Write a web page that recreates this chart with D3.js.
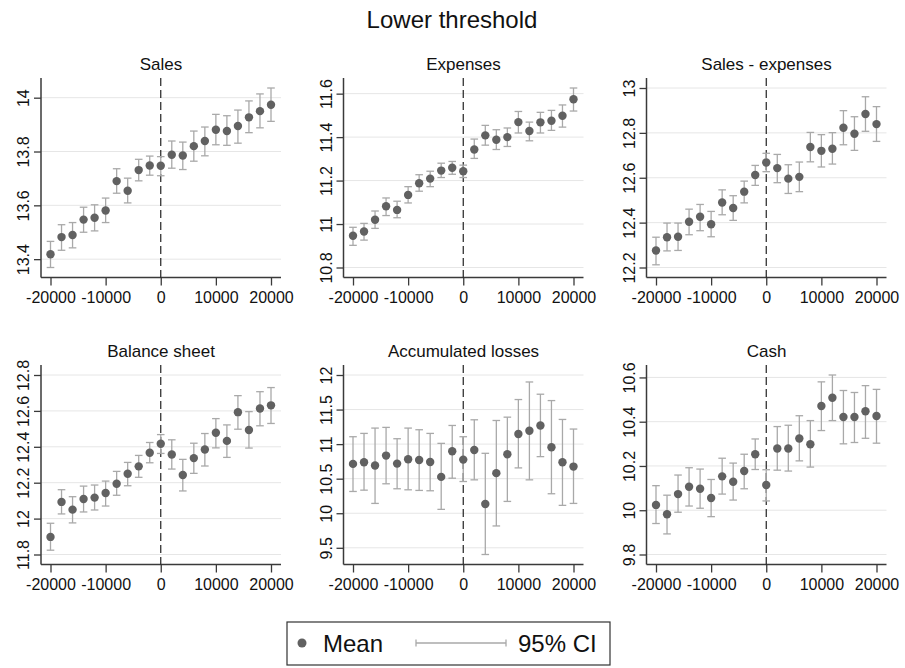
<!DOCTYPE html>
<html>
<head>
<meta charset="utf-8">
<script src="https://cdn.jsdelivr.net/npm/d3@7"></script>
<style>
  body { margin: 0; background: #fff; }
  svg { display: block; font-family: "Liberation Sans", Arial, sans-serif; }
</style>
</head>
<body>
<svg id="chart" width="905" height="668"></svg>
<script>
// bins of the running variable
const bins = [-20000, -18000, -16000, -14000, -12000, -10000, -8000, -6000, -4000, -2000, 0,
              2000, 4000, 6000, 8000, 10000, 12000, 14000, 16000, 18000, 20000];
const xTicks = [-20000, -10000, 0, 10000, 20000];

const panelTitles = ["Sales", "Expenses", "Sales - expenses", "Balance sheet", "Accumulated losses", "Cash"];

// Sales
const salesMean = [13.418, 13.482, 13.490, 13.547, 13.554, 13.581, 13.690, 13.654, 13.731, 13.748, 13.747,
                   13.788, 13.785, 13.820, 13.839, 13.881, 13.876, 13.895, 13.927, 13.950, 13.974];
const salesLo = [13.369, 13.433, 13.442, 13.500, 13.505, 13.536, 13.645, 13.609, 13.691, 13.712, 13.710,
                 13.738, 13.733, 13.764, 13.784, 13.825, 13.823, 13.831, 13.870, 13.888, 13.912];
const salesHi = [13.466, 13.528, 13.536, 13.593, 13.602, 13.627, 13.736, 13.701, 13.771, 13.783, 13.781,
                 13.839, 13.835, 13.876, 13.891, 13.938, 13.933, 13.954, 13.988, 14.014, 14.036];
const salesTicks = [13.4, 13.6, 13.8, 14];

// Expenses
const expMean = [10.946, 10.966, 11.020, 11.082, 11.065, 11.134, 11.188, 11.209, 11.246, 11.259, 11.243,
                 11.343, 11.408, 11.388, 11.400, 11.469, 11.428, 11.468, 11.475, 11.498, 11.574];
const expLo = [10.902, 10.926, 10.980, 11.039, 11.029, 11.097, 11.151, 11.172, 11.214, 11.229, 11.214,
               11.302, 11.363, 11.343, 11.357, 11.419, 11.383, 11.419, 11.431, 11.446, 11.520];
const expHi = [10.985, 11.003, 11.060, 11.120, 11.105, 11.172, 11.227, 11.243, 11.280, 11.288, 11.271,
               11.391, 11.454, 11.434, 11.442, 11.518, 11.469, 11.514, 11.523, 11.548, 11.626];
const expTicks = [10.8, 11, 11.2, 11.4, 11.6];

// Sales - expenses
const diffMean = [12.276, 12.335, 12.337, 12.404, 12.426, 12.393, 12.490, 12.465, 12.538, 12.612, 12.668,
                  12.643, 12.596, 12.604, 12.737, 12.720, 12.729, 12.823, 12.796, 12.884, 12.839];
const diffLo = [12.212, 12.274, 12.276, 12.346, 12.364, 12.337, 12.435, 12.410, 12.488, 12.566, 12.627,
                12.578, 12.530, 12.538, 12.671, 12.648, 12.661, 12.747, 12.722, 12.807, 12.762];
const diffHi = [12.335, 12.398, 12.398, 12.460, 12.481, 12.450, 12.546, 12.520, 12.585, 12.655, 12.709,
                12.704, 12.658, 12.670, 12.802, 12.792, 12.801, 12.899, 12.872, 12.961, 12.917];
const diffTicks = [12.2, 12.4, 12.6, 12.8, 13];

// Balance sheet
const balMean = [11.898, 12.093, 12.050, 12.109, 12.117, 12.143, 12.194, 12.250, 12.291, 12.367, 12.417,
                 12.357, 12.243, 12.337, 12.385, 12.478, 12.433, 12.593, 12.494, 12.613, 12.631];
const balLo = [11.824, 12.026, 11.976, 12.037, 12.048, 12.070, 12.130, 12.183, 12.230, 12.311, 12.363,
               12.276, 12.154, 12.252, 12.293, 12.394, 12.341, 12.498, 12.393, 12.517, 12.530];
const balHi = [11.974, 12.161, 12.122, 12.181, 12.187, 12.209, 12.263, 12.313, 12.352, 12.424, 12.468,
               12.439, 12.330, 12.420, 12.474, 12.557, 12.522, 12.685, 12.596, 12.707, 12.730];
const balTicks = [11.8, 12, 12.2, 12.4, 12.6, 12.8];

// Accumulated losses
const lossMean = [10.714, 10.738, 10.690, 10.834, 10.718, 10.781, 10.771, 10.742, 10.526, 10.896, 10.776,
                  10.915, 10.133, 10.580, 10.853, 11.146, 11.194, 11.270, 10.954, 10.738, 10.675];
const lossLo = [10.315, 10.334, 10.142, 10.426, 10.354, 10.339, 10.330, 10.325, 10.056, 10.507, 10.459,
                10.483, 9.403, 9.816, 10.171, 10.656, 10.483, 10.819, 10.282, 10.114, 10.142];
const lossHi = [11.107, 11.155, 11.232, 11.242, 11.078, 11.232, 11.208, 11.155, 11.011, 11.270, 11.107,
                11.352, 10.867, 11.342, 11.390, 11.645, 11.899, 11.722, 11.630, 11.357, 11.218];
const lossTicks = [9.5, 10, 10.5, 11, 11.5, 12];

// Cash
const cashMean = [10.024, 9.982, 10.073, 10.106, 10.097, 10.055, 10.153, 10.129, 10.177, 10.253, 10.114,
                  10.279, 10.279, 10.324, 10.298, 10.471, 10.508, 10.421, 10.421, 10.447, 10.426];
const cashLo = [9.940, 9.893, 9.991, 10.019, 10.009, 9.971, 10.073, 10.046, 10.097, 10.184, 10.042,
                10.181, 10.177, 10.223, 10.195, 10.360, 10.405, 10.300, 10.306, 10.325, 10.303];
const cashHi = [10.111, 10.068, 10.159, 10.192, 10.186, 10.139, 10.235, 10.213, 10.253, 10.322, 10.183,
                10.378, 10.384, 10.427, 10.405, 10.580, 10.611, 10.541, 10.532, 10.563, 10.546];
const cashTicks = [9.8, 10, 10.2, 10.4, 10.6];

const panels = [
  { title: panelTitles[0], mean: salesMean, lo: salesLo, hi: salesHi, ticks: salesTicks },
  { title: panelTitles[1], mean: expMean,   lo: expLo,   hi: expHi,   ticks: expTicks },
  { title: panelTitles[2], mean: diffMean,  lo: diffLo,  hi: diffHi,  ticks: diffTicks },
  { title: panelTitles[3], mean: balMean,   lo: balLo,   hi: balHi,   ticks: balTicks },
  { title: panelTitles[4], mean: lossMean,  lo: lossLo,  hi: lossHi,  ticks: lossTicks },
  { title: panelTitles[5], mean: cashMean,  lo: cashLo,  hi: cashHi,  ticks: cashTicks }
];

const svg = d3.select("#chart");
const colLeft = [41, 343.5, 646.5];
const rowTop = [78, 365];
const plotW = 240, plotH = 199.5, pad = 10;
const markColor = "#616161", ciColor = "#a9a9a9", axisColor = "#3a3a3a";

svg.append("text")
  .attr("x", 452).attr("y", 28)
  .attr("text-anchor", "middle")
  .attr("font-size", 24)
  .attr("fill", "#111")
  .text("Lower threshold");

panels.forEach((p, i) => {
  const left = colLeft[i % 3], top = rowTop[Math.floor(i / 3)];
  const g = svg.append("g").attr("transform", `translate(${left},${top})`);

  const x = d3.scaleLinear().domain([-20000, 20000]).range([pad - 0.5, plotW - pad]);
  const yExt = d3.extent([...p.lo, ...p.hi, ...p.ticks]);
  const y = d3.scaleLinear().domain(yExt).range([plotH - pad, pad]);

  // gridlines
  g.selectAll("line.grid").data(p.ticks).join("line")
    .attr("class", "grid")
    .attr("x1", 0).attr("x2", plotW)
    .attr("y1", d => y(d)).attr("y2", d => y(d))
    .attr("stroke", "#e6e6e6").attr("stroke-width", 1);

  // y axis
  const ya = g.append("g")
    .call(d3.axisLeft(y).tickValues(p.ticks).tickSize(7).tickFormat(d => String(d)));
  ya.select(".domain").remove();
  ya.selectAll(".tick line").attr("stroke", axisColor).attr("stroke-width", 1.3);
  ya.selectAll(".tick text")
    .attr("x", 0).attr("y", -12).attr("dy", 0)
    .attr("text-anchor", "middle")
    .attr("transform", "rotate(-90)")
    .attr("font-size", 16).attr("fill", "#111")
    .attr("font-family", "Liberation Sans, Arial, sans-serif");

  // x axis
  const xa = g.append("g").attr("transform", `translate(0,${plotH})`)
    .call(d3.axisBottom(x).tickValues(xTicks).tickSize(8).tickPadding(6).tickFormat(d => String(d)));
  xa.select(".domain").remove();
  xa.selectAll(".tick line").attr("stroke", axisColor).attr("stroke-width", 1.3);
  xa.selectAll(".tick text")
    .attr("font-size", 16).attr("fill", "#111")
    .attr("font-family", "Liberation Sans, Arial, sans-serif");

  // axis lines
  g.append("line").attr("x1", 0).attr("x2", 0).attr("y1", 0).attr("y2", plotH)
    .attr("stroke", axisColor).attr("stroke-width", 1.5);
  g.append("line").attr("x1", 0).attr("x2", plotW).attr("y1", plotH).attr("y2", plotH)
    .attr("stroke", axisColor).attr("stroke-width", 1.5);

  // threshold line
  g.append("line")
    .attr("x1", x(0)).attr("x2", x(0)).attr("y1", 0).attr("y2", plotH)
    .attr("stroke", "#222").attr("stroke-width", 1.2)
    .attr("stroke-dasharray", "8,4");

  // confidence intervals
  const ci = g.selectAll("g.ci").data(bins.map((b, k) => ({ b, lo: p.lo[k], hi: p.hi[k] }))).join("g")
    .attr("class", "ci").attr("stroke", ciColor).attr("stroke-width", 1.3);
  ci.append("line").attr("x1", d => x(d.b)).attr("x2", d => x(d.b))
    .attr("y1", d => y(d.lo)).attr("y2", d => y(d.hi));
  ci.append("line").attr("x1", d => x(d.b) - 3.8).attr("x2", d => x(d.b) + 3.8)
    .attr("y1", d => y(d.lo)).attr("y2", d => y(d.lo));
  ci.append("line").attr("x1", d => x(d.b) - 3.8).attr("x2", d => x(d.b) + 3.8)
    .attr("y1", d => y(d.hi)).attr("y2", d => y(d.hi));

  // means
  g.selectAll("circle.mean").data(bins.map((b, k) => ({ b, m: p.mean[k] }))).join("circle")
    .attr("class", "mean")
    .attr("cx", d => x(d.b)).attr("cy", d => y(d.m))
    .attr("r", 4.2).attr("fill", markColor);

  // panel title
  g.append("text")
    .attr("x", plotW / 2).attr("y", -8)
    .attr("text-anchor", "middle")
    .attr("font-size", 17).attr("fill", "#111")
    .text(p.title);
});

// legend
const lg = svg.append("g");
lg.append("rect").attr("x", 287).attr("y", 622).attr("width", 323).attr("height", 43)
  .attr("fill", "#fff").attr("stroke", "#333").attr("stroke-width", 1.2);
lg.append("circle").attr("cx", 302).attr("cy", 643).attr("r", 4.5).attr("fill", markColor);
lg.append("text").attr("x", 323).attr("y", 652).attr("font-size", 24).attr("fill", "#111").text("Mean");
lg.append("line").attr("x1", 416).attr("x2", 506).attr("y1", 643).attr("y2", 643)
  .attr("stroke", ciColor).attr("stroke-width", 1.3);
lg.append("line").attr("x1", 416).attr("x2", 416).attr("y1", 639.5).attr("y2", 646.5)
  .attr("stroke", ciColor).attr("stroke-width", 1.3);
lg.append("line").attr("x1", 506).attr("x2", 506).attr("y1", 639.5).attr("y2", 646.5)
  .attr("stroke", ciColor).attr("stroke-width", 1.3);
lg.append("text").attr("x", 518).attr("y", 652).attr("font-size", 24).attr("fill", "#111").text("95% CI");
</script>
</body>
</html>
